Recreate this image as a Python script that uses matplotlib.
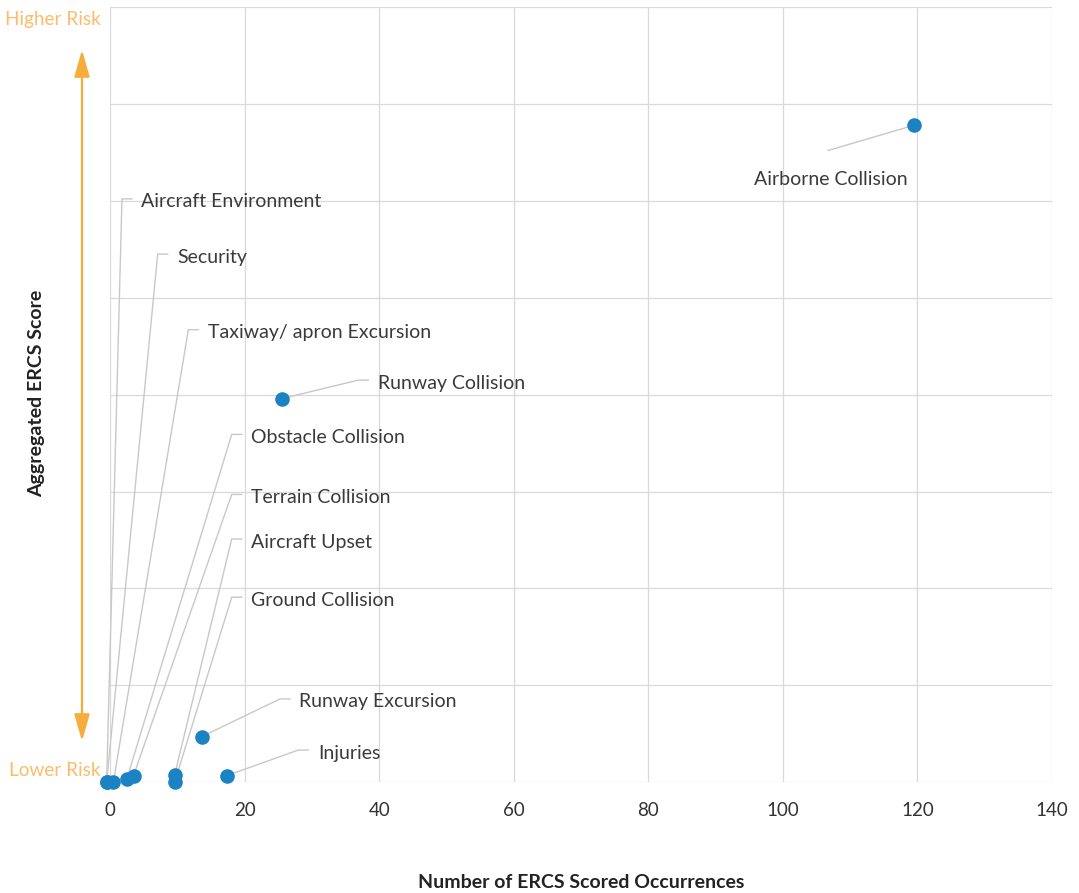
import matplotlib
matplotlib.use("Agg")
import matplotlib.pyplot as plt
from matplotlib.patches import FancyArrowPatch

# Occurrence categories with ERCS counts and aggregated scores
categories = [
    "Aircraft Environment", "Security", "Taxiway/ apron Excursion",
    "Obstacle Collision", "Terrain Collision", "Aircraft Upset",
    "Ground Collision", "Runway Excursion", "Injuries",
    "Runway Collision", "Airborne Collision",
]
occurrences = [-0.5, -0.5, 0.5, 2.5, 3.5, 9.6, 9.6, 13.6, 17.4, 25.6, 119.5]
ercs_score = [0.0, 0.0, 0.0, 0.035, 0.07, 0.075, 0.0, 0.47, 0.07, 3.96, 6.78]

x_ticks = [0, 20, 40, 60, 80, 100, 120, 140]
x_tick_labels = ["0", "20", "40", "60", "80", "100", "120", "140"]

# Leader elbow positions (data coords) for each label
elbows = [
    (1.78, 6.02), (7.09, 5.45), (11.64, 4.67), (18.09, 3.59),
    (18.09, 2.97), (18.09, 2.51), (18.09, 1.91), (25.26, 0.86),
    (28.0, 0.333), (36.9, 4.15), (106.75, 6.52),
]

BLUE = "#1b82c4"
GRID = "#d9d9d9"
LEADER = "#c8c8c8"
TEXT = "#3a3a3a"
ORANGE_TXT = "#fbbd6b"
ORANGE = "#f7ad3c"
FONT = "Lato"

fig = plt.figure(figsize=(10.79, 8.93), dpi=100)
ax = fig.add_axes([110 / 1079, (893 - 782.3) / 893, 942 / 1079, (782.3 - 7) / 893])

ax.set_xlim(0, 140)
ax.set_ylim(0, 8)
ax.set_xticks(x_ticks)
ax.set_xticklabels(x_tick_labels, fontfamily=FONT, fontsize=13.5, color="#333333")
ax.set_yticks(range(0, 9))
ax.set_yticklabels([])
ax.tick_params(axis="both", length=0)
ax.tick_params(axis="x", pad=14)
ax.grid(True, color=GRID, linewidth=0.9)
ax.set_axisbelow(True)
for s in ax.spines.values():
    s.set_visible(False)

px_x = 140 / 942.0  # data units per pixel along x
px_y = 8 / 775.3    # data units per pixel along y
seg = 10 * px_x
gap = 9.5 * px_x
drop = 3 * px_y

for name, x, y, (ex, ey) in zip(categories, occurrences, ercs_score, elbows):
    if name == "Airborne Collision":
        ax.plot([x, ex], [y, ey], color=LEADER, lw=1.0, zorder=2)
        ax.text(ex + 0.4, ey - 0.17 - 4 * px_y, name, ha="center", va="top",
                fontfamily=FONT, fontsize=14, color=TEXT, zorder=4)
        continue
    ax.plot([x, ex, ex + seg], [y, ey, ey], color=LEADER, lw=1.0, zorder=2,
            clip_on=False)
    ax.text(ex + seg + gap, ey - drop, name, ha="left", va="center",
            fontfamily=FONT, fontsize=14, color=TEXT, zorder=4)

ax.scatter(occurrences, ercs_score, s=110, color=BLUE, zorder=5,
           clip_on=False, linewidths=0)

# Risk direction arrow on the left
arrow = FancyArrowPatch((82 / 1079, 1 - 47 / 893), (82 / 1079, 1 - 744 / 893),
                        transform=fig.transFigure,
                        arrowstyle="<|-|>,head_length=1.65,head_width=0.47",
                        mutation_scale=10, color=ORANGE, lw=1.6)
fig.patches.append(arrow)
fig.text(101 / 1079, 1 - 20 / 893, "Higher Risk", ha="right", va="center",
         fontfamily=FONT, fontsize=13.7, color=ORANGE_TXT)
fig.text(101 / 1079, 1 - 771 / 893, "Lower Risk", ha="right", va="center",
         fontfamily=FONT, fontsize=13.7, color=ORANGE_TXT)

fig.text(37 / 1079, 1 - 393 / 893, "Aggregated ERCS Score", rotation=90,
         ha="center", va="center", fontfamily=FONT, fontweight="bold",
         fontsize=14, color="#222222")
fig.text(581 / 1079, 1 - 882 / 893, "Number of ERCS Scored Occurrences",
         ha="center", va="center", fontfamily=FONT, fontweight="bold",
         fontsize=14, color="#222222")

fig.savefig("out.png", dpi=100)
